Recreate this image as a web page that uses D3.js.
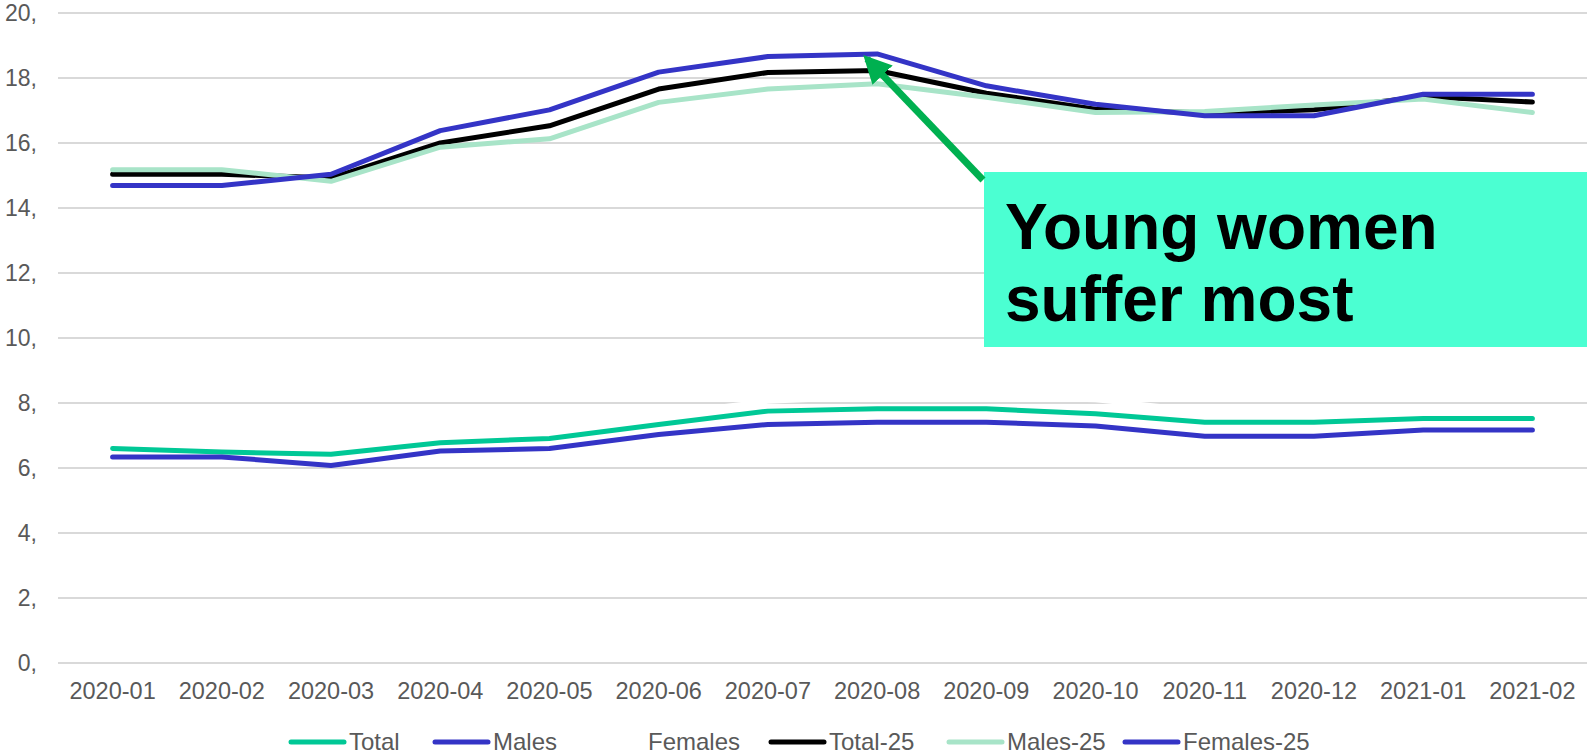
<!DOCTYPE html>
<html>
<head>
<meta charset="utf-8">
<script src="https://cdn.jsdelivr.net/npm/d3@7"></script>
<style>
  html, body { margin: 0; padding: 0; background: #fff; }
  svg { display: block; font-family: "Liberation Sans", Arial, sans-serif; }
</style>
</head>
<body>
<svg id="chart" width="1587" height="754"></svg>
<script>
const categories = ["2020-01","2020-02","2020-03","2020-04","2020-05","2020-06","2020-07","2020-08","2020-09","2020-10","2020-11","2020-12","2021-01","2021-02"];
const yTicks = [0, 2, 4, 6, 8, 10, 12, 14, 16, 18, 20];

const total      = [6.60, 6.49, 6.42, 6.78, 6.91, 7.34, 7.75, 7.82, 7.82, 7.67, 7.41, 7.41, 7.52, 7.52];
const males      = [6.34, 6.34, 6.08, 6.52, 6.60, 7.03, 7.34, 7.41, 7.41, 7.29, 6.98, 6.98, 7.17, 7.17];
const females    = [6.85, 6.72, 6.72, 7.05, 7.20, 7.65, 8.05, 8.20, 8.20, 8.10, 7.75, 7.80, 7.85, 7.85];
const total25    = [15.04, 15.04, 14.92, 16.00, 16.53, 17.66, 18.17, 18.23, 17.53, 17.04, 16.92, 17.02, 17.43, 17.26];
const males25    = [15.18, 15.18, 14.82, 15.87, 16.13, 17.25, 17.66, 17.82, 17.41, 16.94, 16.97, 17.17, 17.35, 16.94];
const females25  = [14.69, 14.69, 15.04, 16.38, 17.02, 18.18, 18.66, 18.74, 17.76, 17.19, 16.84, 16.84, 17.50, 17.50];

const seriesNames = ["Total", "Males", "Females", "Total-25", "Males-25", "Females-25"];
const seriesValues = [total, males, females, total25, males25, females25];
const seriesColors = ["#00C896", "#3434C6", "#FFFFFF", "#000000", "#A8E4C8", "#3434C6"];

const annotationLines = ["Young women", "suffer most"];
const annotationPoint = "2020-08";

const svg = d3.select("#chart");

const x = d3.scaleBand().domain(categories).range([58, 1587]);
const y = d3.scaleLinear().domain([0, 20]).range([663, 13]);

// gridlines
svg.append("g").selectAll("line").data(yTicks).join("line")
  .attr("x1", 58).attr("x2", 1587)
  .attr("y1", d => y(d)).attr("y2", d => y(d))
  .attr("stroke", "#D9D9D9").attr("stroke-width", 2);

// y labels
svg.append("g").selectAll("text").data(yTicks).join("text")
  .attr("x", 37).attr("y", d => y(d)).attr("dy", "0.35em")
  .attr("text-anchor", "end")
  .attr("font-size", 23).attr("fill", "#595959")
  .text(d => d + ",");

// x axis labels
const xAxis = d3.axisBottom(x).tickSize(0).tickPadding(19);
const gx = svg.append("g").attr("transform", `translate(0,${y(0)})`).call(xAxis);
gx.select(".domain").remove();
gx.selectAll("text").attr("font-size", 23.5).attr("fill", "#595959")
  .attr("font-family", "'Liberation Sans', Arial, sans-serif");

// lines
const line = d3.line().x((d, i) => x(categories[i]) + x.bandwidth() / 2).y(d => y(d));
seriesValues.forEach((vals, k) => {
  svg.append("path").datum(vals)
    .attr("d", line)
    .attr("fill", "none")
    .attr("stroke", seriesColors[k])
    .attr("stroke-width", 5)
    .attr("stroke-linejoin", "round")
    .attr("stroke-linecap", "round");
});

// annotation box
const boxX = 984, boxY = 172, boxW = 1587 - 984, boxH = 175;
svg.append("rect").attr("x", boxX).attr("y", boxY).attr("width", boxW).attr("height", boxH)
  .attr("fill", "#4BFFD2");
svg.append("g").selectAll("text").data(annotationLines).join("text")
  .attr("x", boxX + 21).attr("y", (d, i) => boxY + 77 + i * 72)
  .attr("font-size", 64).attr("font-weight", "bold").attr("fill", "#000")
  .text(d => d);

// arrow
const tipX = x(annotationPoint) + x.bandwidth() / 2 - 10;
const tipY = y(females25[categories.indexOf(annotationPoint)]) + 5;
const startX = boxX - 1, startY = boxY + 8;
const defs = svg.append("defs");
defs.append("marker").attr("id", "ah").attr("viewBox", "0 0 10 10")
  .attr("refX", 8).attr("refY", 5).attr("markerWidth", 4).attr("markerHeight", 4)
  .attr("orient", "auto").attr("markerUnits", "strokeWidth")
  .append("path").attr("d", "M0,0 L10,5 L0,10 z").attr("fill", "#00B050");
svg.append("line")
  .attr("x1", startX).attr("y1", startY).attr("x2", tipX).attr("y2", tipY)
  .attr("stroke", "#00B050").attr("stroke-width", 7)
  .attr("marker-end", "url(#ah)");

// legend
const legendStarts = [291, 435, 590, 771, 949, 1125];
const lg = svg.append("g").selectAll("g").data(seriesNames).join("g")
  .attr("transform", (d, i) => `translate(${legendStarts[i]},742)`);
lg.append("line").attr("x1", 0).attr("x2", 53).attr("y1", 0).attr("y2", 0)
  .attr("stroke", (d, i) => seriesColors[i]).attr("stroke-width", 5)
  .attr("stroke-linecap", "round");
lg.append("text").attr("x", 58).attr("y", 0).attr("dy", "0.35em")
  .attr("font-size", 24).attr("fill", "#595959").text(d => d);
</script>
</body>
</html>
